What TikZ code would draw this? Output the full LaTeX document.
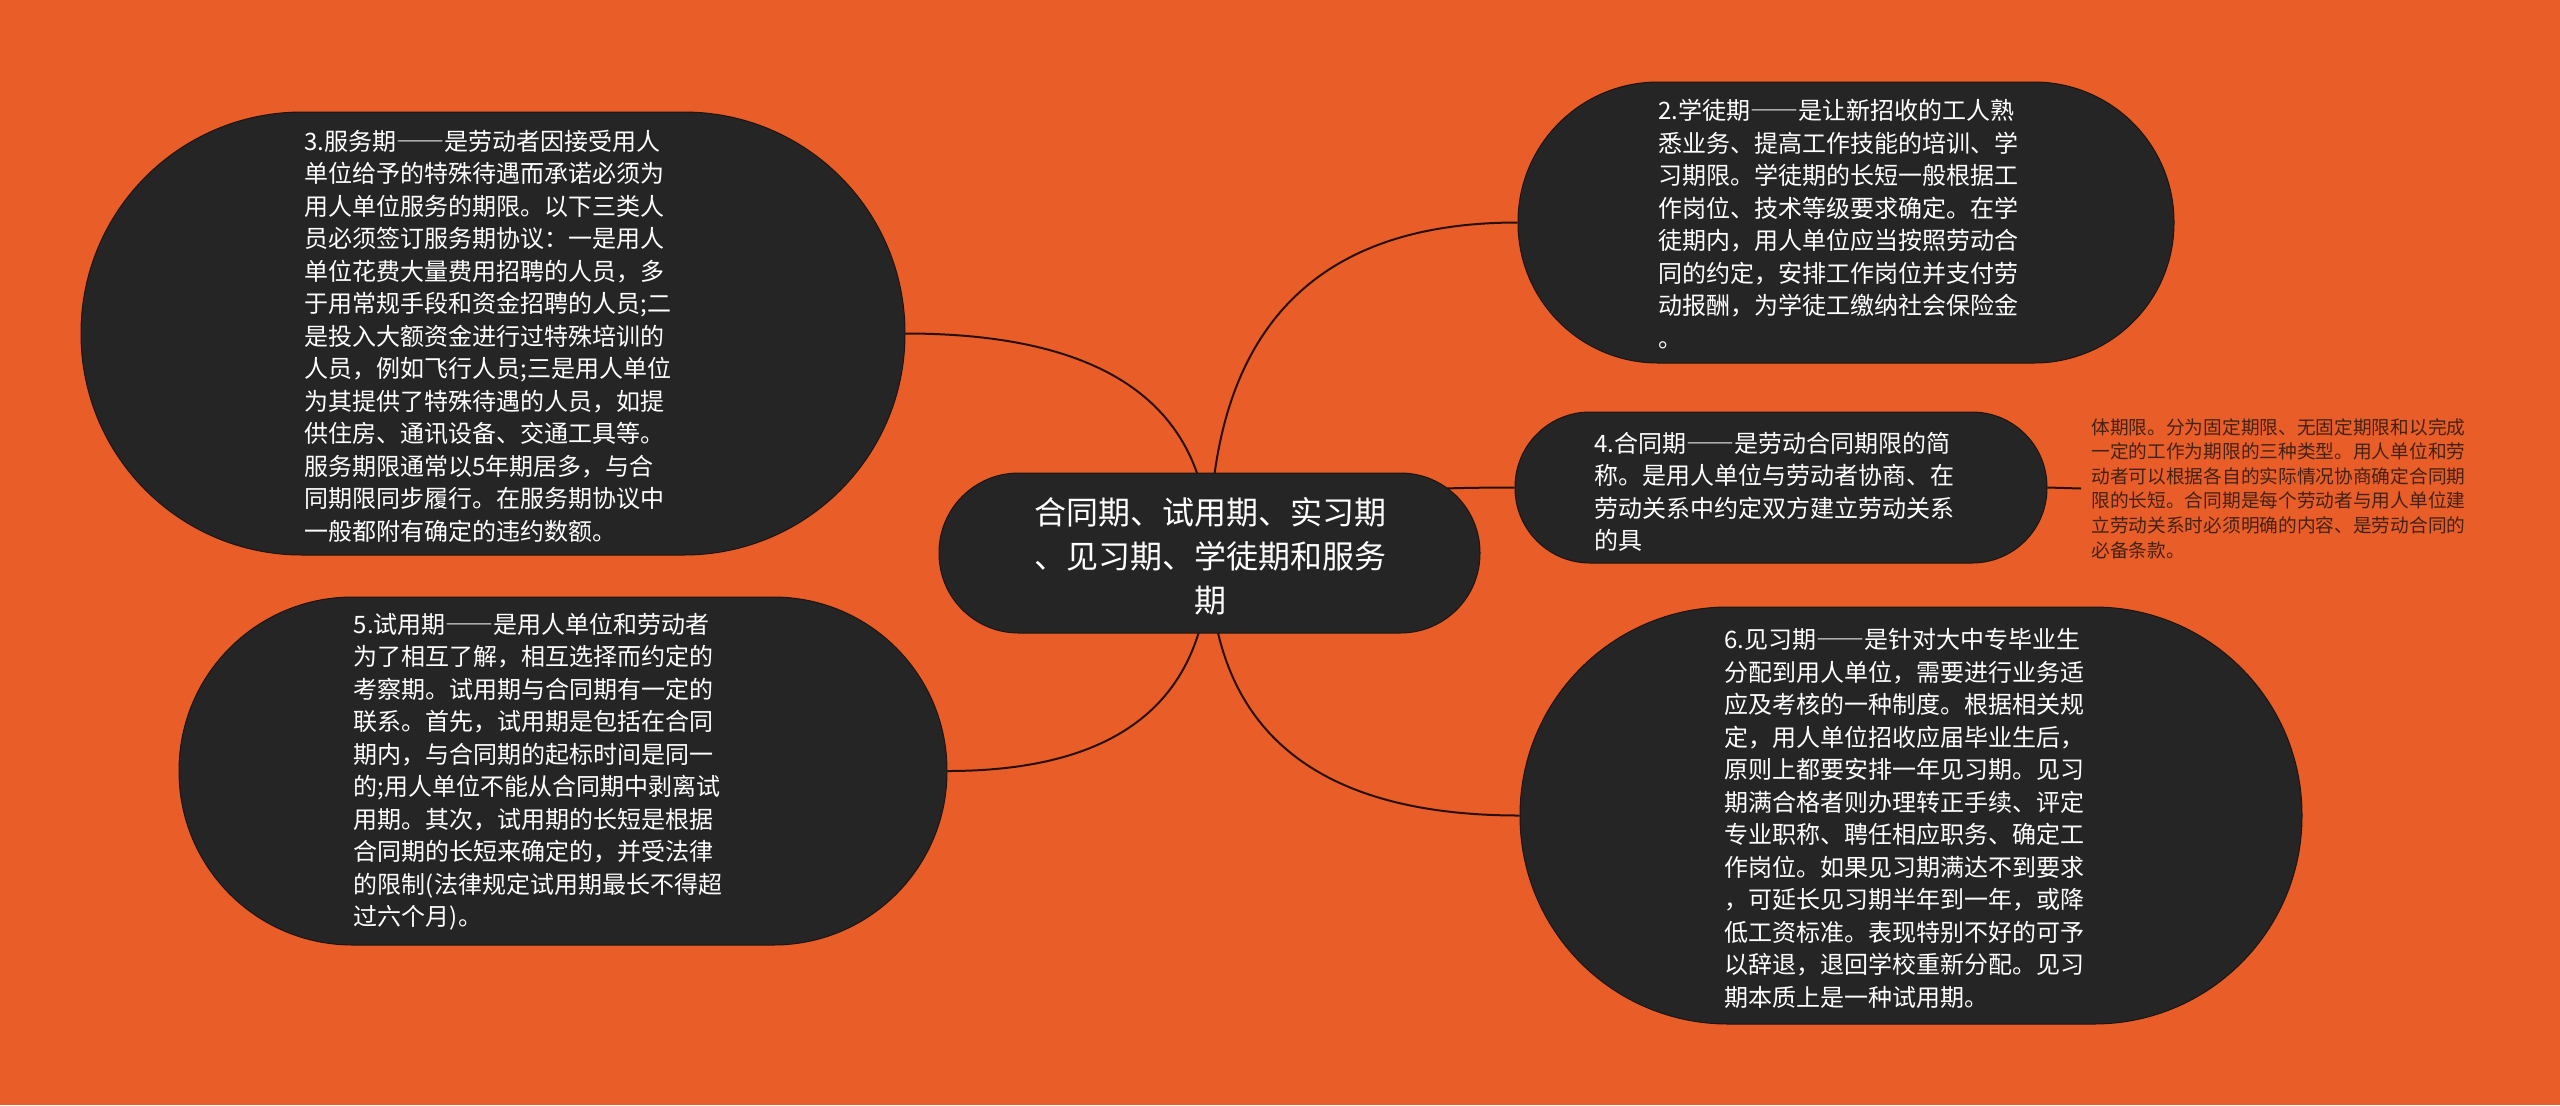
\documentclass[tikz,border=0pt]{standalone}
\usepackage{fontspec}
\setmainfont{Noto Sans CJK SC}
\newcommand{\fwdash}{{\addfontfeatures{RawFeature=+fwid}——}}
\usetikzlibrary{calc,backgrounds}
\definecolor{bgorange}{RGB}{233,94,40}
\definecolor{bubfill}{RGB}{37,37,37}
\definecolor{bubedge}{RGB}{30,20,16}
\definecolor{connc}{RGB}{40,16,8}
\definecolor{sidetext}{RGB}{66,34,22}
\begin{document}
\begin{tikzpicture}[x=0.5pt,y=-0.5pt,
 bub/.style={rectangle, fill=bubfill, draw=bubedge, line width=0.5pt, inner sep=0pt},
 btxt/.style={text=white, font=\fontsize{12}{16.25}\selectfont, align=left, inner sep=0pt},
 ctxt/.style={text=white, font=\fontsize{16}{22}\selectfont, align=center, inner sep=0pt},
 stxt/.style={text=sidetext, font=\fontsize{9.35}{12.3}\selectfont, align=left, inner xsep=5pt, inner ysep=0pt},
 conn/.style={draw=connc, line width=1pt}]
\useasboundingbox (0,0) rectangle (2560,1105);

% bubbles
\node[bub, minimum width=270.5pt, minimum height=80pt, rounded corners=39.8pt] (c) at (1209.5,553) {};
\node[bub, minimum width=412pt, minimum height=221.5pt, rounded corners=110.5pt] (n3) at (493,333.5) {};
\node[bub, minimum width=384pt, minimum height=174pt, rounded corners=86.8pt] (n5) at (563,771) {};
\node[bub, minimum width=328pt, minimum height=140.5pt, rounded corners=70pt] (n2) at (1846,222.5) {};
\node[bub, minimum width=266pt, minimum height=75.5pt, rounded corners=37.5pt] (n4) at (1781,487.5) {};
\node[bub, minimum width=391pt, minimum height=208.5pt, rounded corners=104pt] (n6) at (1911,815.5) {};

% texts
\node[ctxt] (ct) at (1210,556) {合同期、试用期、实习期\\、见习期、学徒期和服务\\期};
\node[btxt] (t3) at (488,336) {3.服务期\fwdash 是劳动者因接受用人\\单位给予的特殊待遇而承诺必须为\\用人单位服务的期限。以下三类人\\员必须签订服务期协议：一是用人\\单位花费大量费用招聘的人员，多\\于用常规手段和资金招聘的人员;二\\是投入大额资金进行过特殊培训的\\人员，例如飞行人员;三是用人单位\\为其提供了特殊待遇的人员，如提\\供住房、通讯设备、交通工具等。\\服务期限通常以5年期居多，与合\\同期限同步履行。在服务期协议中\\一般都附有确定的违约数额。};
\node[btxt] (t5) at (538,771.5) {5.试用期\fwdash 是用人单位和劳动者\\为了相互了解，相互选择而约定的\\考察期。试用期与合同期有一定的\\联系。首先，试用期是包括在合同\\期内，与合同期的起标时间是同一\\的;用人单位不能从合同期中剥离试\\用期。其次，试用期的长短是根据\\合同期的长短来确定的，并受法律\\的限制(法律规定试用期最长不得超\\过六个月)。};
\node[btxt] (t2) at (1838,224) {2.学徒期\fwdash 是让新招收的工人熟\\悉业务、提高工作技能的培训、学\\习期限。学徒期的长短一般根据工\\作岗位、技术等级要求确定。在学\\徒期内，用人单位应当按照劳动合\\同的约定，安排工作岗位并支付劳\\动报酬，为学徒工缴纳社会保险金\\。};
\node[btxt] (t4) at (1774,492) {4.合同期\fwdash 是劳动合同期限的简\\称。是用人单位与劳动者协商、在\\劳动关系中约定双方建立劳动关系\\的具};
\node[btxt] (t6) at (1904,818.5) {6.见习期\fwdash 是针对大中专毕业生\\分配到用人单位，需要进行业务适\\应及考核的一种制度。根据相关规\\定，用人单位招收应届毕业生后，\\原则上都要安排一年见习期。见习\\期满合格者则办理转正手续、评定\\专业职称、聘任相应职务、确定工\\作岗位。如果见习期满达不到要求\\，可延长见习期半年到一年，或降\\低工资标准。表现特别不好的可予\\以辞退，退回学校重新分配。见习\\期本质上是一种试用期。};
\node[stxt, anchor=west] (s) at (2081,488.5) {体期限。分为固定期限、无固定期限和以完成\\一定的工作为期限的三种类型。用人单位和劳\\动者可以根据各自的实际情况协商确定合同期\\限的长短。合同期是每个劳动者与用人单位建\\立劳动关系时必须明确的内容、是劳动合同的\\必备条款。};

\begin{scope}[on background layer]
\fill[bgorange] (0,0) rectangle (2560,1105);
\foreach \nd/\an in {n3/east, n5/east, n2/west, n4/west, n6/west} {
  \draw[conn] (c.center) .. controls ($(c.center)!0.6667!(c.center |- \nd.\an)$) and ($(\nd.\an)!0.6667!(c.center |- \nd.\an)$) .. (\nd.\an);
}
\draw[conn] (n4.east) -- (s.west);
\end{scope}
\end{tikzpicture}
\end{document}
